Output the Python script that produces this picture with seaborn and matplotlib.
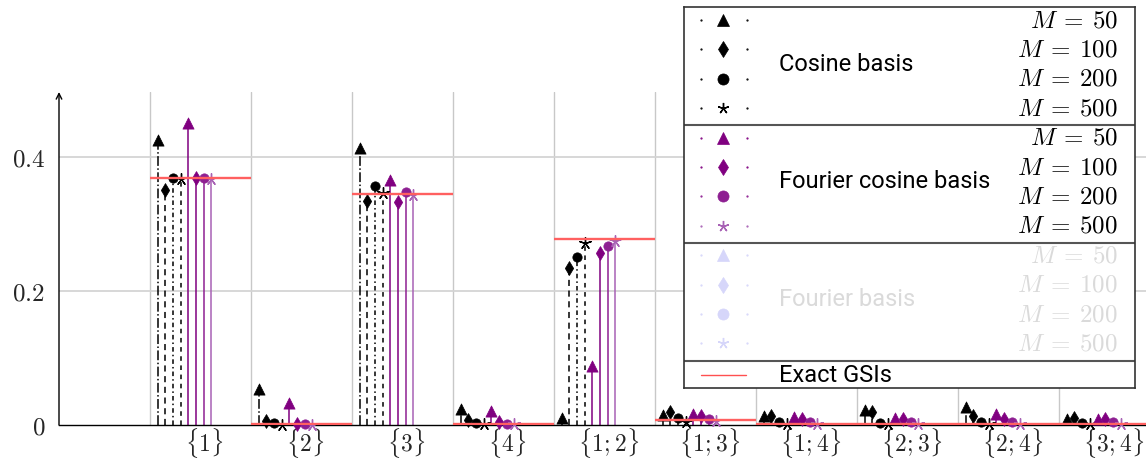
import matplotlib.pyplot as plt
import numpy as np
import pandas as pd
import seaborn as sns

# first-order / second-order GSI estimates
groups = ['{1}', '{2}', '{3}', '{4}', '{1;2}', '{1;3}', '{1;4}', '{2;3}', '{2;4}', '{3;4}']
exact_gsi = [0.369, 0.001, 0.345, 0.001, 0.277, 0.007, 0.001, 0.001, 0.001, 0.001]

m_values = [50, 100, 200, 500]

cos_m50 = [0.425, 0.053, 0.413, 0.024, 0.010, 0.015, 0.014, 0.023, 0.027, 0.009]
cos_m100 = [0.351, 0.006, 0.334, 0.007, 0.234, 0.019, 0.013, 0.019, 0.014, 0.011]
cos_m200 = [0.368, 0.0025, 0.357, 0.003, 0.250, 0.010, 0.004, 0.003, 0.004, 0.003]
cos_m500 = [0.367, 0.0005, 0.346, 0.001, 0.271, 0.005, 0.001, 0.001, 0.001, 0.001]

fcos_m50 = [0.450, 0.033, 0.366, 0.021, 0.0885, 0.016, 0.012, 0.010, 0.016, 0.009]
fcos_m100 = [0.369, 0.001, 0.333, 0.004, 0.256, 0.013, 0.009, 0.009, 0.009, 0.009]
fcos_m200 = [0.369, 0.001, 0.348, 0.002, 0.267, 0.009, 0.004, 0.004, 0.004, 0.004]
fcos_m500 = [0.367, 0.0005, 0.344, 0.001, 0.275, 0.0065, 0.001, 0.001, 0.001, 0.001]

basis_names = ['Cosine basis', 'Fourier cosine basis', 'Fourier basis']

sns.set_style('white')
plt.rcParams['mathtext.fontset'] = 'cm'
plt.rcParams['font.family'] = ['Roboto', 'DejaVu Sans']

markers = ['^', 'd', 'o', (5, 2, 0)]
msizes = [65, 50, 45, 70]
black_styles = ['-.', (0, (4, 3)), (0, (3, 2, 1, 2)), (0, (3, 3))]
purple_cols = ['#800080', '#800080', '#8e1f92', '#a862b5']
faded_col = '#d6d6fa'

series = [
    (cos_m50, 'black', black_styles[0], markers[0], msizes[0]),
    (cos_m100, 'black', black_styles[1], markers[1], msizes[1]),
    (cos_m200, 'black', black_styles[2], markers[2], msizes[2]),
    (cos_m500, 'black', black_styles[3], markers[3], msizes[3]),
    (fcos_m50, purple_cols[0], '-', markers[0], msizes[0]),
    (fcos_m100, purple_cols[1], '-', markers[1], msizes[1]),
    (fcos_m200, purple_cols[2], '-', markers[2], msizes[2]),
    (fcos_m500, purple_cols[3], '-', markers[3], msizes[3]),
]

fig = plt.figure(figsize=(11.46, 4.61), dpi=100)
ax = fig.add_axes([59 / 1146, 36 / 461, 1087 / 1146, 333 / 461])

base = np.arange(len(groups))
step = 0.076

# group separators and horizontal grid
for k in base:
    ax.axvline(k, color='#c8c8c8', lw=1.0, zorder=0)
for yv in [0.2, 0.4]:
    ax.axhline(yv, color='#d4d4d4', lw=1.3, zorder=0)

for j, (vals, col, ls, mk, ms) in enumerate(series):
    xs = base + step * (j + 1)
    df = pd.DataFrame({'x': xs, 'y': vals})
    ax.vlines(df['x'], 0, df['y'], colors=col, linestyles=ls, lw=1.1, zorder=2)
    lw = 1.0 if isinstance(mk, tuple) else 0.5
    sns.scatterplot(data=df, x='x', y='y', marker=mk, s=ms, color=col,
                    edgecolor=col, linewidth=lw, ax=ax, zorder=3, clip_on=False,
                    legend=False)

# exact values as a segment over each group
ax.hlines(exact_gsi, base, base + 1, colors='#ff6060', lw=1.7, zorder=4)

ax.set_xlim(-0.9, 9.86)
ax.set_ylim(0, 0.497)
ax.set_xticks(base + 0.54)
ax.set_xticklabels([r'$\{%s\}$' % g.strip('{}') for g in groups], fontsize=17)
ax.set_yticks([0, 0.2, 0.4])
ax.set_yticklabels([r'$0$', r'$0.2$', r'$0.4$'], fontsize=18)
ax.tick_params(axis='x', length=0, pad=1)
ax.tick_params(axis='y', length=5, width=1.2, color='#c0c0c0', pad=5)
ax.set_xlabel('')
ax.set_ylabel('')
for s in ['top', 'right']:
    ax.spines[s].set_visible(False)
ax.spines['left'].set_visible(False)
ax.spines['bottom'].set_color('black')
ax.spines['bottom'].set_linewidth(1.0)
ax.annotate('', xy=(0, 1.0), xytext=(0, 0), xycoords='axes fraction',
            arrowprops=dict(arrowstyle='->', color='black', lw=1.0,
                            shrinkA=0, shrinkB=0))

# hand-built legend box (pixel coordinates inside the box)
lg = fig.add_axes([684 / 1146, 73 / 461, 451 / 1146, 381 / 461])
lg.set_xlim(0, 451)
lg.set_ylim(381, 0)
lg.set_xticks([])
lg.set_yticks([])
lg.set_facecolor('white')
for s in lg.spines.values():
    s.set_color('#333333')
    s.set_linewidth(1.2)

row_h = 29.4
leg_cols = [['black'] * 4, purple_cols, [faded_col] * 4]
text_cols = ['black', 'black', '#dadada']
for g in range(3):
    for r in range(4):
        y = 13 + row_h * (4 * g + r)
        c = leg_cols[g][r]
        lg.plot([17, 63], [y, y], ls='none', marker='.', ms=1.2, color=c)
        mk = markers[r]
        lg.plot(39, y, marker=mk, color=c, ms=8,
                mew=1.0 if r == 3 else 0.5, ls='none')
        lg.text(434, y, r'$M\:=\:%d$' % m_values[r], ha='right', va='center',
                fontsize=18, color=text_cols[g])
    lg.text(95, 13 + row_h * (4 * g + 1.5), basis_names[g], ha='left',
            va='center', fontsize=17, color=text_cols[g])
    if g > 0:
        lg.axhline(118 * g, color='#555555', lw=1.5)
lg.axhline(354, color='#555555', lw=1.5)
lg.plot([17, 62], [368, 368], color='#ff5050', lw=1.0)
lg.text(95, 368, 'Exact GSIs', ha='left', va='center', fontsize=17, color='black')

fig.savefig('out.png', dpi=100)
